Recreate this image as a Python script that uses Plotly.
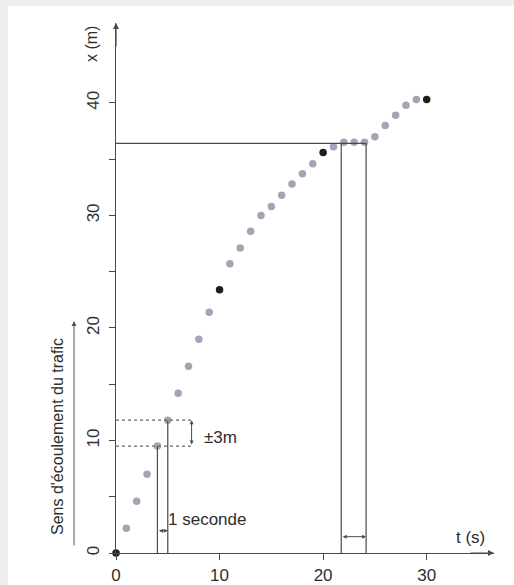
import plotly.graph_objects as go

# ---- data ----
t_s = list(range(0, 31))
x_m = [0.0, 2.2, 4.6, 7.0, 9.5, 11.8, 14.2, 16.6, 19.0, 21.4,
       23.4, 25.7, 27.1, 28.6, 30.0, 30.8, 31.8, 32.8, 33.7, 34.6,
       35.6, 36.1, 36.5, 36.5, 36.5, 37.0, 38.0, 38.9, 39.8, 40.3, 40.3]
highlight_t = [0, 10, 20, 30]

x_tickvals = [0, 10, 20, 30]
x_ticktext = ["0", "10", "20", "30"]
y_tickvals = [0, 5, 10, 15, 20, 25, 30, 35, 40]
y_ticktext = ["0", "", "10", "", "20", "", "30", "", "40"]

# annotation geometry (data units)
stop_level = 36.4
stop_t0, stop_t1 = 21.75, 24.15
band_t0, band_t1 = 4.0, 5.0
band_x0, band_x1 = 9.5, 11.8
band_right = 7.45

X_RANGE = [0, 36.5]
Y_RANGE = [0, 47.1]

W, H = 514, 585
ML, MR, MT, MB = 116, 20, 23, 32
PW, PH = W - ML - MR, H - MT - MB

def px(p):  # pixel x -> paper x
    return (p - ML) / PW

def py(p):  # pixel y -> paper y
    return (H - MB - p) / PH

LINE = "#4a4a4a"
TXT = "#2e2e2e"
FONT = "Liberation Sans, Arial, sans-serif"

gray_t = [t for t in t_s if t not in highlight_t]
gray_x = [x for t, x in zip(t_s, x_m) if t not in highlight_t]
blk_t = [t for t in t_s if t in highlight_t]
blk_x = [x for t, x in zip(t_s, x_m) if t in highlight_t]

fig = go.Figure()
fig.add_trace(go.Scatter(x=gray_t, y=gray_x, mode="markers",
                         marker=dict(size=7.5, color="#a2a5b5"), cliponaxis=False,
                         hoverinfo="x+y", showlegend=False))
fig.add_trace(go.Scatter(x=blk_t, y=blk_x, mode="markers",
                         marker=dict(size=7.5, color="#1e1e1e"), cliponaxis=False,
                         hoverinfo="x+y", showlegend=False))

shapes = []
# card background
shapes.append(dict(type="rect", xref="paper", yref="paper",
                   x0=px(8), x1=px(W + 5), y0=py(H + 5), y1=py(6),
                   fillcolor="white", line=dict(width=0), layer="below"))
# stop lines
shapes.append(dict(type="line", xref="x", yref="y", x0=0, x1=stop_t1,
                   y0=stop_level, y1=stop_level, line=dict(color=LINE, width=1.2)))
for tt in (stop_t0, stop_t1):
    shapes.append(dict(type="line", xref="x", yref="y", x0=tt, x1=tt,
                       y0=0, y1=stop_level, line=dict(color=LINE, width=1.2)))
# band lines lower-left
for xx in (band_x0, band_x1):
    shapes.append(dict(type="line", xref="x", yref="y", x0=0, x1=band_right,
                       y0=xx, y1=xx, line=dict(color="#6a6a6a", width=1.2, dash="dot")))
shapes.append(dict(type="line", xref="x", yref="y", x0=band_t0, x1=band_t0,
                   y0=0, y1=band_x0, line=dict(color=LINE, width=1.2)))
shapes.append(dict(type="line", xref="x", yref="y", x0=band_t1, x1=band_t1,
                   y0=0, y1=band_x1, line=dict(color=LINE, width=1.2)))

ann = []
# axis arrows
ann.append(dict(x=0, y=Y_RANGE[1], xref="x", yref="y", ax=0, ay=25, axref="pixel", ayref="pixel",
                showarrow=True, arrowhead=2, arrowsize=1, arrowwidth=1.2, arrowcolor=LINE, text=""))
ann.append(dict(x=X_RANGE[1], y=0, xref="x", yref="y", ax=-25, ay=0,
                showarrow=True, arrowhead=2, arrowsize=1, arrowwidth=1.2, arrowcolor=LINE, text=""))
# double arrows
ann.append(dict(x=stop_t1, y=1.45, ax=stop_t0, ay=1.45, xref="x", yref="y", axref="x", ayref="y",
                showarrow=True, arrowhead=2, arrowside="end+start", arrowsize=0.8, arrowwidth=1,
                arrowcolor=LINE, text=""))
ann.append(dict(x=band_t1, y=1.98, ax=band_t0, ay=1.98, xref="x", yref="y", axref="x", ayref="y",
                showarrow=True, arrowhead=2, arrowside="end+start", arrowsize=0.8, arrowwidth=1,
                arrowcolor=LINE, text=""))
ann.append(dict(x=7.3, y=band_x1, ax=7.3, ay=band_x0, xref="x", yref="y", axref="x", ayref="y",
                showarrow=True, arrowhead=2, arrowside="end+start", arrowsize=0.8, arrowwidth=1,
                arrowcolor=LINE, text=""))
# texts
ann.append(dict(x=8.3, y=10.3, xref="x", yref="y", text="±3m", showarrow=False,
                xanchor="left", yanchor="middle", font=dict(size=17, color=TXT, family=FONT)))
ann.append(dict(x=4.85, y=3.0, xref="x", yref="y", text="1 seconde", showarrow=False,
                xanchor="left", yanchor="middle", font=dict(size=17, color=TXT, family=FONT)))
ann.append(dict(x=px(470), y=py(537), xref="paper", yref="paper", text="t (s)", showarrow=False,
                xanchor="center", yanchor="middle", font=dict(size=17, color=TXT, family=FONT)))
ann.append(dict(x=px(91), y=py(44), xref="paper", yref="paper", text="x (m)", showarrow=False,
                textangle=-90, xanchor="center", yanchor="middle",
                font=dict(size=16, color=TXT, family=FONT)))
ann.append(dict(x=px(57), y=py(437), xref="paper", yref="paper", text="Sens d'écoulement du trafic",
                showarrow=False, textangle=-90, xanchor="center", yanchor="middle",
                font=dict(size=16, color=TXT, family=FONT)))
ann.append(dict(x=px(74), y=py(321), xref="paper", yref="paper", ax=0, ay=226,
                showarrow=True, arrowhead=2, arrowsize=1, arrowwidth=1, arrowcolor="#555555", text=""))

fig.update_layout(
    width=W, height=H,
    margin=dict(l=ML, r=MR, t=MT, b=MB, pad=0, autoexpand=False),
    paper_bgcolor="#efefef", plot_bgcolor="white",
    shapes=shapes, annotations=ann, showlegend=False,
    xaxis=dict(range=X_RANGE, showgrid=False, zeroline=False, showline=True, automargin=False,
               linecolor=LINE, linewidth=1.2, ticks="outside", ticklen=6, tickcolor=LINE,
               tickwidth=1.2, tickvals=x_tickvals, ticktext=x_ticktext,
               tickfont=dict(size=17, color=TXT, family=FONT), fixedrange=True),
    yaxis=dict(range=Y_RANGE, showgrid=False, zeroline=False, showline=True, automargin=False,
               linecolor=LINE, linewidth=1.2, ticks="outside", ticklen=6, tickcolor=LINE,
               tickwidth=1.2, tickvals=y_tickvals, ticktext=y_ticktext, tickangle=-90,
               ticklabelstandoff=3,
               tickfont=dict(size=17, color=TXT, family=FONT), fixedrange=True),
)

fig.write_html("out.html")
